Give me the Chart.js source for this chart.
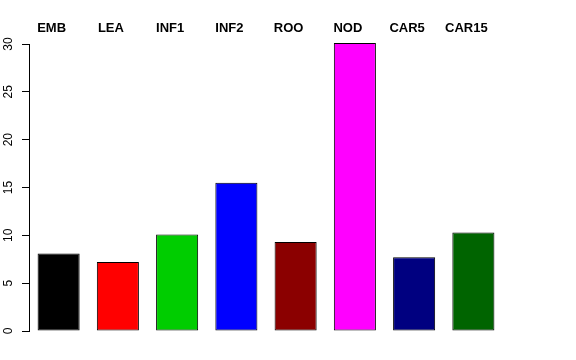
<!DOCTYPE html>
<html>
<head>
<meta charset="utf-8">
<script src="https://cdn.jsdelivr.net/npm/chart.js@4/dist/chart.umd.min.js"></script>
<style>
  html, body { margin: 0; padding: 0; background: #fff; }
  #wrap { width: 576px; height: 360px; }
</style>
</head>
<body>
<div id="wrap"><canvas id="barChart" width="576" height="360"></canvas></div>
<script>
const tissues = ['EMB', 'LEA', 'INF1', 'INF2', 'ROO', 'NOD', 'CAR5', 'CAR15'];
const values = [8.1, 7.2, 10.1, 15.5, 9.3, 30.1, 7.7, 10.3];
const barColors = ['#000000', '#FF0000', '#00CD00', '#0000FF', '#8B0000', '#FF00FF', '#000080', '#006400'];
const yTicks = [0, 5, 10, 15, 20, 25, 30];

const FONT = '"Liberation Sans", Arial, Helvetica, sans-serif';

// y tick labels rotated like R's axis(2)
const rotatedYLabels = {
  id: 'rotatedYLabels',
  afterDraw(chart) {
    const ctx = chart.ctx;
    const y = chart.scales.y;
    ctx.save();
    ctx.fillStyle = '#000';
    ctx.font = '12px ' + FONT;
    ctx.textAlign = 'center';
    ctx.textBaseline = 'middle';
    yTicks.forEach(t => {
      ctx.save();
      ctx.translate(9, y.getPixelForValue(t));
      ctx.rotate(-Math.PI / 2);
      ctx.fillText(String(t), 0, 0);
      ctx.restore();
    });
    ctx.restore();
  }
};

new Chart(document.getElementById('barChart').getContext('2d'), {
  type: 'bar',
  data: {
    labels: tissues,
    datasets: [{
      data: values,
      backgroundColor: barColors,
      borderColor: '#000',
      borderWidth: 1,
      borderSkipped: false,
      categoryPercentage: 0.71,
      barPercentage: 1,
      clip: false
    }]
  },
  options: {
    responsive: false,
    animation: false,
    devicePixelRatio: 1,
    layout: { padding: { left: 0, right: 73, top: 0, bottom: 29 } },
    plugins: {
      legend: { display: false },
      tooltip: { enabled: false }
    },
    scales: {
      x: {
        position: 'top',
        grid: { display: false },
        border: { display: false },
        ticks: {
          color: '#000',
          font: { family: FONT, size: 13, weight: 'bold' },
          labelOffset: -7,
          padding: 0,
          maxRotation: 0,
          autoSkip: false
        },
        afterFit: s => { s.height = 44; }
      },
      y: {
        min: 0,
        max: 30,
        afterBuildTicks: s => { s.ticks = yTicks.map(v => ({ value: v })); },
        grid: {
          drawOnChartArea: false,
          drawTicks: true,
          tickLength: 7,
          color: '#000'
        },
        border: { display: true, color: '#000', width: 1 },
        ticks: { color: 'rgba(0,0,0,0)', font: { family: FONT, size: 12 } },
        afterFit: s => { s.width = 29; }
      }
    }
  },
  plugins: [rotatedYLabels]
});
</script>
</body>
</html>
